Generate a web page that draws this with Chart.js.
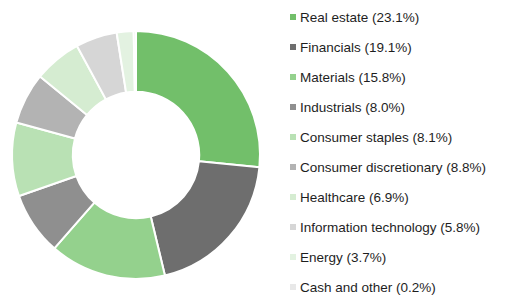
<!DOCTYPE html>
<html>
<head>
<meta charset="utf-8">
<script src="https://cdn.jsdelivr.net/npm/chart.js@4"></script>
<style>
  html, body { margin: 0; padding: 0; background: #fff; }
  #wrap { position: relative; width: 505px; height: 304px; overflow: hidden; }
  #chart-box { position: absolute; left: 0; top: 0; width: 280px; height: 304px; }
  #legend { position: absolute; left: 290px; top: 2px; margin: 0; padding: 0; list-style: none;
    font-family: "Liberation Sans", Arial, sans-serif; font-size: 13.5px; color: #1e1e1e; }
  #legend li { height: 30px; display: flex; align-items: center; white-space: nowrap; }
  #legend .box { width: 6px; height: 6px; margin-right: 4px; flex: none; }
</style>
</head>
<body>
<div id="wrap">
  <div id="chart-box"><canvas id="sectorChart"></canvas></div>
  <ul id="legend"></ul>
</div>
<script>
const sectors = ['Real estate', 'Financials', 'Materials', 'Industrials', 'Consumer staples',
    'Consumer discretionary', 'Healthcare', 'Information technology', 'Energy', 'Cash and other'];
const legendPct = ['23.1%', '19.1%', '15.8%', '8.0%', '8.1%', '8.8%', '6.9%', '5.8%', '3.7%', '0.2%'];
// slice sizes as drawn in the picture (%)
const sliceValues = [26.6, 19.7, 15.2, 8.2, 9.6, 6.7, 6.2, 5.4, 2.2, 0.3];
const colors = ['#72bf6a', '#6e6e6e', '#94d18d', '#8f8f8f', '#b9e1b4',
    '#b3b3b3', '#d5ecd1', '#d6d6d6', '#e3f2e1', '#e8e8e8'];

const labels = sectors.map((s, i) => s + ' (' + legendPct[i] + ')');

const ctx = document.getElementById('sectorChart').getContext('2d');

new Chart(ctx, {
    type: 'doughnut',
    data: {
        labels: labels,
        datasets: [{
            data: sliceValues,
            backgroundColor: colors,
            borderColor: '#ffffff',
            borderWidth: 2
        }]
    },
    options: {
        responsive: true,
        maintainAspectRatio: false,
        animation: false,
        cutout: '51%',
        layout: { padding: { left: 11, top: 30, right: 19, bottom: 24 } },
        plugins: {
            legend: { display: false },
            tooltip: { enabled: false }
        }
    }
});

// legend built from the same arrays
const legendEl = document.getElementById('legend');
labels.forEach((text, i) => {
    const li = document.createElement('li');
    li.innerHTML = `<span class="box" style="background:${colors[i]}"></span><span>${text}</span>`;
    legendEl.appendChild(li);
});
</script>
</body>
</html>
